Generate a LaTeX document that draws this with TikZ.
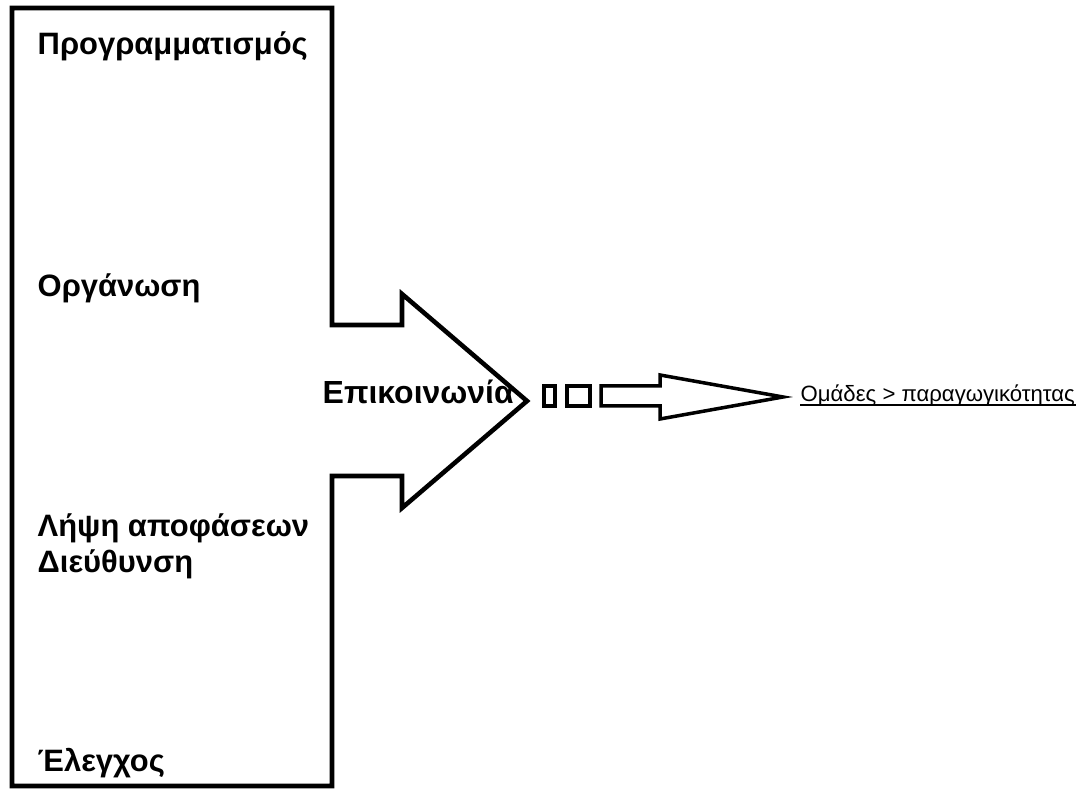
\documentclass[tikz,border=0pt]{standalone}
\usepackage{fontspec}
\setmainfont{Liberation Sans}

\tikzset{
	func/.style={anchor=base west, inner sep=0pt, font=\fontsize{8.8}{10}\selectfont\bfseries},
	small/.style={anchor=base west, inner sep=0pt, font=\fontsize{6.3}{7}\selectfont}
}

\begin{document}
\begin{tikzpicture}

\useasboundingbox (0,0) rectangle (10.8,7.89);

\draw[line width=1.3pt, line join=miter] (0.12,7.81) -- (3.32,7.81) -- (3.32,4.64) -- (4.02,4.64) -- (4.02,4.95)
	-- (5.27,3.88) -- (4.02,2.81) -- (4.02,3.13) -- (3.32,3.13) -- (3.32,0.03) -- (0.12,0.03) -- cycle;

\foreach \n/\y/\t in {prog/7.34/Προγραμματισμός, org/4.92/Οργάνωση, lip/2.52/Λήψη αποφάσεων,
	dief/2.16/Διεύθυνση, eleg/0.17/Έλεγχος} {
	\node[func] (\n) at (0.37,\y) {\t};
}
\node[func, font=\fontsize{9.1}{10}\selectfont\bfseries] (epik) at (3.22,3.855) {Επικοινωνία};

\draw[line width=1pt] (5.44,3.83) rectangle (5.55,4.03);
\draw[line width=1pt] (5.67,3.83) rectangle (5.90,4.03);
\draw[line width=1pt] (6.01,4.03) -- (6.60,4.03) -- (6.60,4.14) -- (7.83,3.92) -- (6.60,3.70) -- (6.60,3.83) -- (6.01,3.83) -- cycle;

\node[small] (omades) at (8.00,3.87) {Ομάδες > παραγωγικότητας};
\draw[line width=0.5pt] ([yshift=-0.03cm]omades.base west) -- ([yshift=-0.03cm]omades.base east);

\end{tikzpicture}
\end{document}
